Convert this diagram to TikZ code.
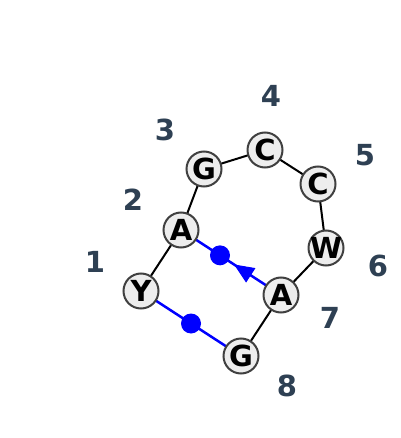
\documentclass[tikz,border=0pt]{standalone}
\usepackage{fontspec}
\setmainfont{DejaVu Sans}
\usetikzlibrary{arrows.meta,calc}
\pgfdeclarelayer{background}
\pgfsetlayers{background,main}
\definecolor{numcol}{HTML}{2E4053}
\newcommand{\resl}[1]{\makebox[0pt]{#1}}
\tikzset{res/.style={circle,draw=black!75,fill=black!7,line width=2pt,minimum size=35pt,inner sep=0pt,font=\fontsize{29}{29}\selectfont\bfseries},
  num/.style={text=numcol,font=\fontsize{29}{29}\selectfont\bfseries}}
\begin{document}
\begin{tikzpicture}[x=1pt,y=-1pt]
      \useasboundingbox (0,0) rectangle (400,438);
      \node[res] (y1) at (141,291) {\resl{Y}};
      \node[res] (a2) at (181,230) {\resl{A}};
      \node[res] (g3) at (204,169) {\resl{G}};
      \node[res] (c4) at (265,150) {\resl{C}};
      \node[res] (c5) at (318,184) {\resl{C}};
      \node[res] (w6) at (326,248) {\resl{W}};
      \node[res] (a7) at (281,295) {\resl{A}};
      \node[res] (g8) at (241,356) {\resl{G}};
      \node[num] (n1) at (95,262) {1};
      \node[num] (n2) at (133,200) {2};
      \node[num] (n3) at (165,130) {3};
      \node[num] (n4) at (271,96) {4};
      \node[num] (n5) at (365,155) {5};
      \node[num] (n6) at (378,266) {6};
      \node[num] (n7) at (330,318) {7};
      \node[num] (n8) at (287,386) {8};
      \begin{pgfonlayer}{background}
      \draw[line width=2pt] (y1.center) -- (a2.center) -- (g3.center) -- (c4.center) -- (c5.center) -- (w6.center) -- (a7.center) -- (g8.center);
      \draw[blue,line width=2.5pt] (a2.center) -- (a7.center);
      \draw[blue,line width=2.5pt] (y1.center) -- (g8.center);
      \fill[blue] ($(a2)!0.39!(a7)$) circle[radius=10pt];
      \fill[blue] ($(y1)!0.5!(g8)$) circle[radius=10pt];
      \draw[blue,line width=1pt,-{Triangle[length=20pt,width=17pt]}] ($(a2)!0.71!(a7)$) -- ($(a2)!0.53!(a7)$);
      \end{pgfonlayer}
    \end{tikzpicture}
\end{document}
